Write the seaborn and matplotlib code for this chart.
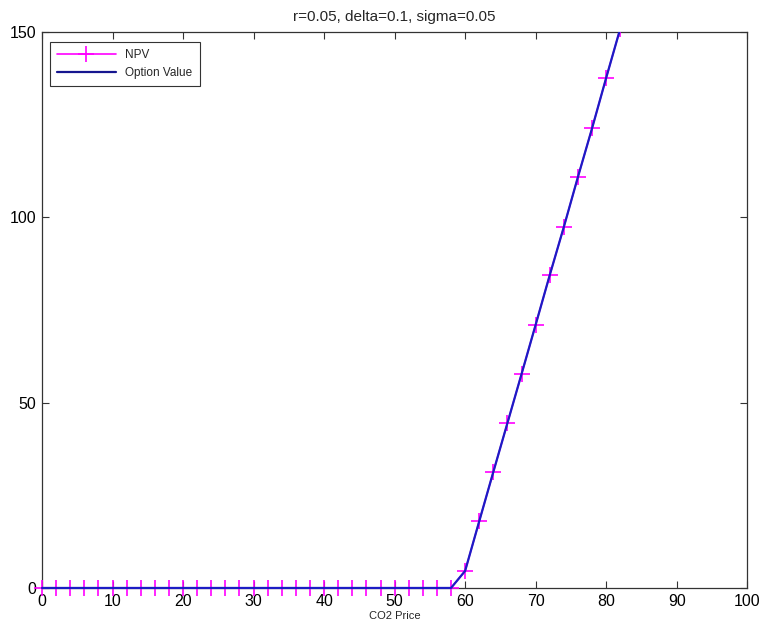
import matplotlib
matplotlib.use("Agg")
import matplotlib.pyplot as plt
from matplotlib.patches import Rectangle
import seaborn as sns
import pandas as pd

# Data
npv_x = [0, 2, 4, 6, 8, 10, 12, 14, 16, 18, 20, 22, 24, 26, 28, 30, 32, 34, 36, 38,
         40, 42, 44, 46, 48, 50, 52, 54, 56, 58, 60, 62, 64, 66, 68, 70, 72, 74, 76,
         78, 80, 82, 84, 86, 88, 90, 92, 94, 96, 98, 100]
npv_y = [0, 0, 0, 0, 0, 0, 0, 0, 0, 0, 0, 0, 0, 0, 0, 0, 0, 0, 0, 0,
         0, 0, 0, 0, 0, 0, 0, 0, 0, 0, 4.6, 18.0, 31.3, 44.5, 57.7, 71.0, 84.4, 97.4, 110.9,
         124.0, 137.6, 150.9, 164.2, 177.5, 190.8, 204.1, 217.4, 230.7, 244.0, 257.3, 270.6]
opt_x = [0, 2, 4, 6, 8, 10, 12, 14, 16, 18, 20, 22, 24, 26, 28, 30, 32, 34, 36, 38,
         40, 42, 44, 46, 48, 50, 52, 54, 56, 58, 60, 62, 64, 66, 68, 70, 72, 74, 76,
         78, 80, 82, 84, 86, 88, 90, 92, 94, 96, 98, 100]
opt_y = [0, 0, 0, 0, 0, 0, 0, 0, 0, 0, 0, 0, 0, 0, 0, 0, 0, 0, 0, 0,
         0, 0, 0, 0, 0, 0, 0, 0, 0, 0, 4.6, 18.0, 31.3, 44.5, 57.7, 71.0, 84.4, 97.4, 110.9,
         124.0, 137.6, 150.9, 164.2, 177.5, 190.8, 204.1, 217.4, 230.7, 244.0, 257.3, 270.6]
x_ticks = [0, 10, 20, 30, 40, 50, 60, 70, 80, 90, 100]
y_ticks = [0, 50, 100, 150]
title = "r=0.05, delta=0.1, sigma=0.05"
xlabel = "CO2 Price"

sns.set_theme(style="white")
plt.rcParams['font.family'] = ['Liberation Sans', 'DejaVu Sans']

npv_df = pd.DataFrame({"x": npv_x, "y": npv_y})
opt_df = pd.DataFrame({"x": opt_x, "y": opt_y})

fig = plt.figure(figsize=(7.64, 6.34), dpi=100)
ax = fig.add_axes([0.055, 0.0726, 0.923, 0.877])

sns.lineplot(data=npv_df, x="x", y="y", ax=ax, color="#ff00ff", marker="+",
             markersize=11, markeredgewidth=1.2, linewidth=1.2, label="NPV",
             markeredgecolor="#ff00ff")
sns.lineplot(data=opt_df, x="x", y="y", ax=ax, color="#1c1cc4", linewidth=1.6,
             label="Option Value")

# clip at top/right only, let marks at y=0 show fully
clip = Rectangle((-0.02, -0.05), 1.04, 1.05, transform=ax.transAxes,
                 facecolor="none", edgecolor="none")
ax.add_patch(clip)
for i, ln in enumerate(ax.lines):
    ln.set_clip_path(clip)
    ln.set_zorder(3 + i)

ax.set_xlim(0, 100)
ax.set_ylim(0, 150)
ax.set_xticks(x_ticks)
ax.set_yticks(y_ticks)
ax.tick_params(direction="in", length=5, width=0.8, colors="#333333",
               labelcolor="black", labelsize=11.5, top=True, right=True,
               bottom=True, left=True, pad=4)
for s in ax.spines.values():
    s.set_color("#333333")
    s.set_linewidth(0.9)
    s.set_zorder(2)
ax.set_title(title, fontsize=11, pad=8)
ax.set_xlabel(xlabel, fontsize=8, labelpad=2)
ax.set_ylabel("")

leg = ax.legend(loc="upper left", bbox_to_anchor=(0.011, 0.982), borderaxespad=0,
                fontsize=8.5, handlelength=5, frameon=True, fancybox=False,
                edgecolor="#333333", framealpha=1, borderpad=0.6, labelspacing=0.5)
leg.get_frame().set_linewidth(0.8)
leg.set_zorder(10)
for h in leg.get_lines():
    if h.get_label() == "Option Value" or h.get_color() == "#1c1cc4":
        pass
leg.get_lines()[1].set_color("#15158f")

fig.savefig("out.png", dpi=100)
